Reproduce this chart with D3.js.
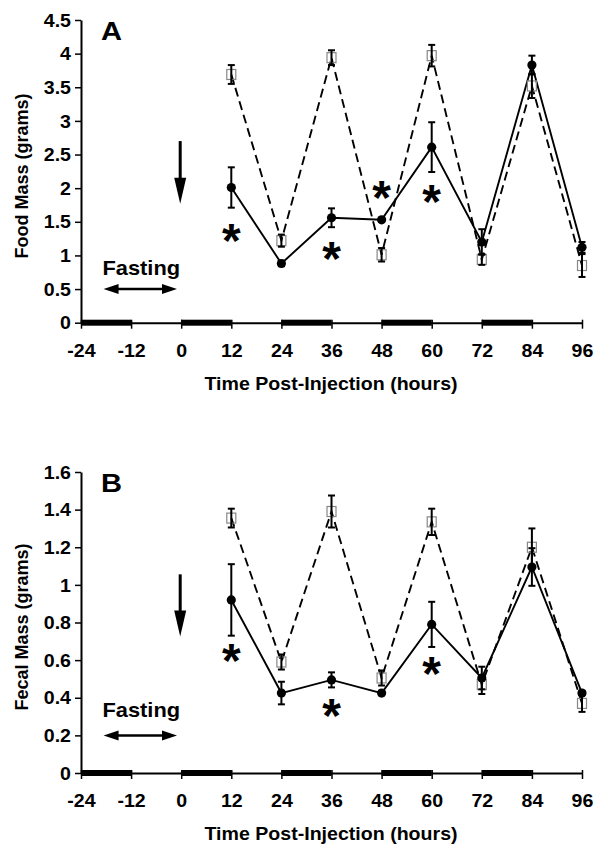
<!DOCTYPE html>
<html>
<head>
<meta charset="utf-8">
<script src="https://cdn.jsdelivr.net/npm/d3@7"></script>
<style>
  body { margin: 0; background: #fff; }
  text { font-family: "Liberation Sans", Arial, sans-serif; font-weight: bold; fill: #000; }
</style>
</head>
<body>
<svg id="chart" width="600" height="853"></svg>
<script>
// hours after injection where food / feces were weighed
const hours = [12, 24, 36, 48, 60, 72, 84, 96];
const xTicks = [-24, -12, 0, 12, 24, 36, 48, 60, 72, 84, 96];
// dark phases drawn as thick bars along the x axis
const darkPeriods = [[-24, -12], [0, 12], [24, 36], [48, 60], [72, 84]];

// panel A - food mass (g)
const foodTicks = [0, 0.5, 1, 1.5, 2, 2.5, 3, 3.5, 4, 4.5];
const foodTreated = [2.01, 0.88, 1.56, 1.53, 2.61, 1.20, 3.83, 1.12];
const foodTreatedErr = [0.30, 0.04, 0.14, 0.03, 0.37, 0.19, 0.14, 0.08];
const foodControl = [3.69, 1.22, 3.94, 1.01, 3.97, 0.94, 3.52, 0.85];
const foodControlErr = [0.14, 0.09, 0.11, 0.10, 0.16, 0.08, 0.18, 0.17];
const foodStars = [[12, 1.34], [36, 1.07], [48, 1.97], [60, 1.92]];

// panel B - fecal mass (g)
const fecalTicks = [0, 0.2, 0.4, 0.6, 0.8, 1, 1.2, 1.4, 1.6];
const fecalTreated = [0.92, 0.425, 0.495, 0.425, 0.79, 0.505, 1.095, 0.425];
const fecalTreatedErr = [0.19, 0.06, 0.04, 0.01, 0.12, 0.06, 0.10, 0.01];
const fecalControl = [1.355, 0.59, 1.39, 0.505, 1.335, 0.47, 1.20, 0.37];
const fecalControlErr = [0.05, 0.04, 0.085, 0.04, 0.07, 0.05, 0.10, 0.045];
const fecalStars = [[12, 0.64], [36, 0.345], [60, 0.567]];

const STRETCH = 1.12; // the reference lettering is a little wide

const svg = d3.select("#chart");
svg.append("rect").attr("width", 600).attr("height", 853).attr("fill", "#fff");

const x = d3.scaleLinear().domain([-24, 96]).range([81, 582]);

function wideText(g, px, py, str, size, anchor) {
  return g.append("text")
    .attr("transform", `translate(${px},${py}) scale(${STRETCH},1)`)
    .attr("text-anchor", anchor || "middle")
    .attr("font-size", size)
    .text(str);
}

function arrowHead(g, tipX, tipY, dx, dy, len, half) {
  // dx,dy: unit direction the arrow points to
  const bx = tipX - dx * len, by = tipY - dy * len;
  const px = -dy * half, py = dx * half;
  g.append("path")
    .attr("d", `M${tipX},${tipY}L${bx + px},${by + py}L${bx - px},${by - py}Z`)
    .attr("fill", "#000");
}

function drawPanel(cfg) {
  const y = d3.scaleLinear().domain([0, cfg.yMax]).range([cfg.bottom, cfg.top]);
  const g = svg.append("g");

  // y axis
  const yAxis = g.append("g")
    .attr("transform", `translate(${x(-24)},0)`)
    .call(d3.axisLeft(y).tickValues(cfg.ticks).tickSize(6).tickSizeOuter(0).tickFormat(String));
  yAxis.select(".domain").attr("stroke", "#000").attr("stroke-width", 2);
  yAxis.selectAll(".tick line").attr("stroke", "#000").attr("stroke-width", 1.5);
  yAxis.selectAll(".tick text")
    .attr("x", -10 / STRETCH)
    .attr("dy", "0.35em")
    .attr("transform", `scale(${STRETCH},1)`)
    .attr("font-size", 17.5)
    .attr("font-family", null);

  // x axis
  const xAxis = g.append("g")
    .attr("transform", `translate(0,${cfg.bottom})`)
    .call(d3.axisBottom(x).tickValues(xTicks).tickSize(6).tickSizeOuter(0).tickFormat(String));
  xAxis.select(".domain").attr("stroke", "#000").attr("stroke-width", 2);
  xAxis.selectAll(".tick line").attr("stroke", "#000").attr("stroke-width", 1.5).attr("y1", -3);
  xAxis.selectAll(".tick text")
    .attr("y", 34)
    .attr("dy", null)
    .attr("transform", `scale(${STRETCH},1)`)
    .attr("font-size", 17.5)
    .attr("font-family", null);

  // dark phase bars on the axis
  g.selectAll(".dark")
    .data(darkPeriods)
    .join("rect")
    .attr("class", "dark")
    .attr("x", (d) => x(d[0]))
    .attr("width", (d) => x(d[1]) - x(d[0]))
    .attr("y", cfg.bottom - 3)
    .attr("height", 6)
    .attr("fill", "#000");

  // axis titles
  wideText(g, 331, cfg.bottom + 67, "Time Post-Injection (hours)", 17.5);
  g.append("text")
    .attr("transform", `translate(28,${cfg.titleY}) rotate(-90)`)
    .attr("text-anchor", "middle")
    .attr("font-size", 18)
    .text(cfg.yTitle);

  // panel letter
  wideText(g, 101, cfg.top + 20, cfg.letter, 26, "start");

  const ctrl = hours.map((h, i) => ({ h, v: cfg.control[i], e: cfg.controlErr[i] }));
  const trt = hours.map((h, i) => ({ h, v: cfg.treated[i], e: cfg.treatedErr[i] }));

  const line = d3.line().x((d) => x(d.h)).y((d) => y(d.v));

  g.append("path")
    .datum(ctrl)
    .attr("d", line)
    .attr("fill", "none")
    .attr("stroke", "#000")
    .attr("stroke-width", 1.9)
    .attr("stroke-dasharray", "9 5");

  g.append("path")
    .datum(trt)
    .attr("d", line)
    .attr("fill", "none")
    .attr("stroke", "#000")
    .attr("stroke-width", 1.9);

  // open squares (control)
  g.selectAll(".sq")
    .data(ctrl)
    .join("rect")
    .attr("class", "sq")
    .attr("x", (d) => x(d.h) - 4.5)
    .attr("y", (d) => y(d.v) - 5)
    .attr("width", 9)
    .attr("height", 10)
    .attr("fill", "none")
    .attr("stroke", "#888")
    .attr("stroke-width", 1.2);

  function errorBars(data, cls) {
    const eb = g.selectAll("." + cls)
      .data(data)
      .join("g")
      .attr("class", cls)
      .attr("stroke", "#000")
      .attr("stroke-width", 2);
    eb.append("line")
      .attr("x1", (d) => x(d.h)).attr("x2", (d) => x(d.h))
      .attr("y1", (d) => y(d.v - d.e)).attr("y2", (d) => y(d.v + d.e));
    eb.append("line")
      .attr("x1", (d) => x(d.h) - 3.5).attr("x2", (d) => x(d.h) + 3.5)
      .attr("y1", (d) => y(d.v + d.e)).attr("y2", (d) => y(d.v + d.e));
    eb.append("line")
      .attr("x1", (d) => x(d.h) - 3.5).attr("x2", (d) => x(d.h) + 3.5)
      .attr("y1", (d) => y(d.v - d.e)).attr("y2", (d) => y(d.v - d.e));
  }
  errorBars(ctrl, "eb-ctrl");
  errorBars(trt, "eb-trt");

  // filled circles (treated)
  g.selectAll(".dot")
    .data(trt)
    .join("circle")
    .attr("class", "dot")
    .attr("cx", (d) => x(d.h))
    .attr("cy", (d) => y(d.v))
    .attr("r", 4.6)
    .attr("fill", "#000");

  // significance stars
  g.selectAll(".star")
    .data(cfg.stars)
    .join("text")
    .attr("class", "star")
    .attr("x", (d) => x(d[0]))
    .attr("y", (d) => y(d[1]) + 24)
    .attr("text-anchor", "middle")
    .attr("font-size", 48)
    .text("*");

  // injection arrow at t = 0
  const ax = x(0) - 1;
  const aTop = y(cfg.arrowFrom), aTip = y(cfg.arrowTo);
  g.append("line")
    .attr("x1", ax).attr("x2", ax)
    .attr("y1", aTop).attr("y2", aTip - 20)
    .attr("stroke", "#000").attr("stroke-width", 3);
  arrowHead(g, ax, aTip, 0, 1, 26, 6);

  // fasting double arrow
  const fy = y(cfg.fastY);
  const fx1 = x(-18.6), fx2 = x(-1);
  g.append("line")
    .attr("x1", fx1 + 10).attr("x2", fx2 - 10)
    .attr("y1", fy).attr("y2", fy)
    .attr("stroke", "#000").attr("stroke-width", 2.5);
  arrowHead(g, fx1, fy, -1, 0, 15, 5);
  arrowHead(g, fx2, fy, 1, 0, 15, 5);
  wideText(g, (fx1 + fx2) / 2 + 1, fy - cfg.fastGap, "Fasting", 19.5);
}

drawPanel({
  letter: "A",
  yTitle: "Food Mass (grams)",
  yMax: 4.5,
  top: 20,
  bottom: 322.7,
  titleY: 176,
  ticks: foodTicks,
  treated: foodTreated,
  treatedErr: foodTreatedErr,
  control: foodControl,
  controlErr: foodControlErr,
  stars: foodStars,
  arrowFrom: 2.7,
  arrowTo: 1.77,
  fastY: 0.5,
  fastGap: 14
});

drawPanel({
  letter: "B",
  yTitle: "Fecal Mass (grams)",
  yMax: 1.6,
  top: 472,
  bottom: 773,
  titleY: 627,
  ticks: fecalTicks,
  treated: fecalTreated,
  treatedErr: fecalTreatedErr,
  control: fecalControl,
  controlErr: fecalControlErr,
  stars: fecalStars,
  arrowFrom: 1.056,
  arrowTo: 0.725,
  fastY: 0.2,
  fastGap: 18
});
</script>
</body>
</html>
